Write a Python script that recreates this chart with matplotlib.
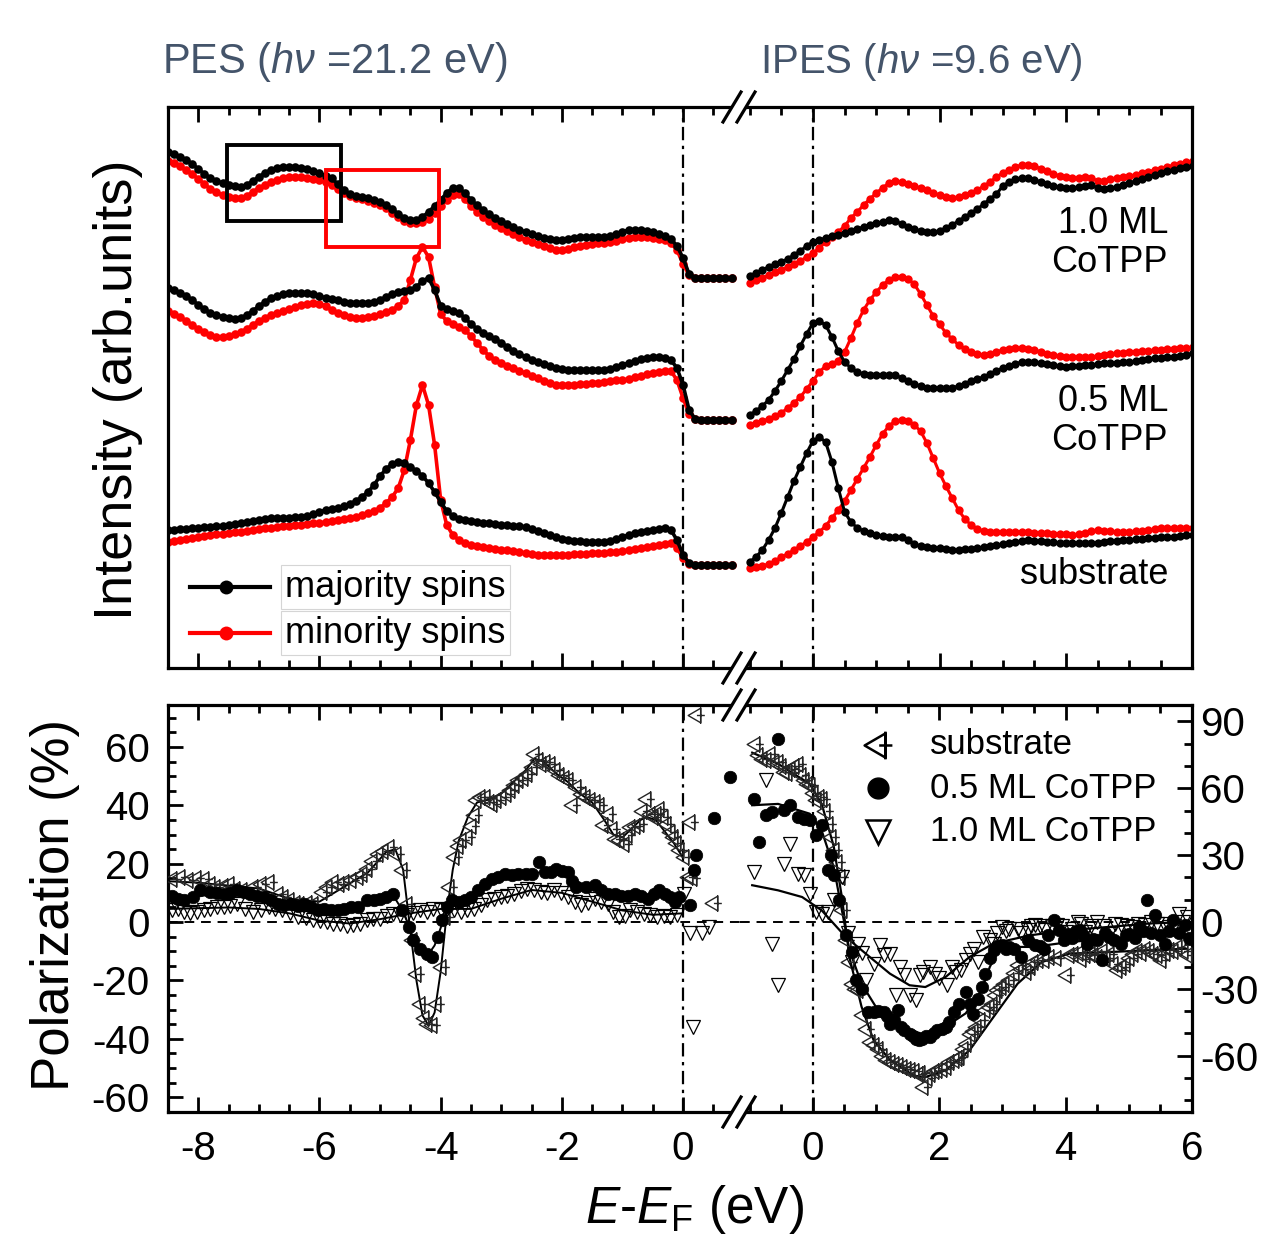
import numpy as np
import matplotlib
matplotlib.use('Agg')
import matplotlib.pyplot as plt
from matplotlib.path import Path
from matplotlib.lines import Line2D
from matplotlib.patches import Polygon, Rectangle
from matplotlib.ticker import MultipleLocator

plt.rcParams['font.family'] = ['Liberation Sans', 'DejaVu Sans']
plt.rcParams['mathtext.fontset'] = 'custom'
plt.rcParams['mathtext.rm'] = 'Liberation Sans'
plt.rcParams['mathtext.it'] = 'Liberation Sans:italic'
plt.rcParams['mathtext.bf'] = 'Liberation Sans:bold'
plt.rcParams['axes.unicode_minus'] = False

# ---------------- top panel: spin-resolved spectra (arb. units) ----------------
E_pes = np.round(np.arange(-85, 9) / 10, 1)     # -8.5 ... 0.8 eV
E_ipes = np.round(np.arange(-10, 61) / 10, 1)   # -1.0 ... 6.0 eV

pes_maj_10 = [54.8, 54.6, 54.3, 54.0, 53.6, 53.1, 52.6, 52.2, 51.9, 51.7,
              51.5, 51.4, 51.3, 51.5, 51.9, 52.3, 52.7, 53.0, 53.2, 53.3,
              53.3, 53.3, 53.2, 53.1, 52.9, 52.7, 52.4, 52.2, 51.6, 51.0,
              50.6, 50.4, 50.3, 50.2, 50.0, 49.8, 49.5, 49.1, 48.6, 48.2,
              48.0, 48.0, 48.3, 48.8, 49.4, 50.0, 50.7, 51.2, 51.2, 50.7,
              50.0, 49.5, 49.0, 48.6, 48.2, 47.9, 47.6, 47.3, 47.0, 46.8,
              46.6, 46.4, 46.2, 46.1, 46.0, 46.0, 46.1, 46.2, 46.3, 46.3,
              46.3, 46.3, 46.3, 46.4, 46.6, 46.8, 47.0, 47.0, 47.0, 46.9,
              46.8, 46.6, 46.4, 46.1, 45.4, 44.2, 42.6, 42.2, 42.2, 42.2,
              42.2, 42.2, 42.2, 42.2]
pes_min_10 = [53.9, 53.7, 53.4, 53.0, 52.6, 52.1, 51.6, 51.1, 50.8, 50.5,
              50.3, 50.2, 50.2, 50.4, 50.8, 51.2, 51.5, 51.8, 52.0, 52.2,
              52.3, 52.3, 52.3, 52.2, 52.1, 52.0, 51.8, 51.5, 51.1, 50.7,
              50.4, 50.2, 50.1, 49.9, 49.7, 49.5, 49.2, 48.7, 48.3, 47.9,
              47.7, 47.7, 47.8, 48.1, 48.7, 49.4, 50.0, 50.5, 50.6, 50.1,
              49.4, 48.8, 48.3, 47.9, 47.5, 47.2, 46.9, 46.6, 46.3, 46.0,
              45.8, 45.6, 45.4, 45.2, 45.0, 45.0, 45.1, 45.3, 45.4, 45.5,
              45.6, 45.7, 45.7, 45.8, 45.9, 46.1, 46.2, 46.3, 46.3, 46.3,
              46.2, 46.1, 46.0, 45.7, 45.0, 43.6, 42.5, 42.2, 42.2, 42.2,
              42.2, 42.2, 42.2, 42.2]
pes_maj_05 = [41.2, 41.0, 40.7, 40.4, 40.0, 39.5, 39.1, 38.7, 38.5, 38.3,
              38.2, 38.1, 38.2, 38.5, 38.9, 39.4, 39.8, 40.2, 40.4, 40.6,
              40.7, 40.7, 40.7, 40.7, 40.6, 40.4, 40.2, 40.1, 40.0, 39.8,
              39.7, 39.7, 39.7, 39.7, 39.8, 40.0, 40.3, 40.6, 40.8, 40.9,
              41.0, 41.3, 41.9, 42.2, 41.0, 39.4, 39.1, 38.9, 38.7, 38.2,
              37.6, 37.1, 36.7, 36.4, 36.1, 35.7, 35.3, 34.9, 34.6, 34.3,
              34.0, 33.8, 33.6, 33.4, 33.2, 33.1, 33.0, 33.0, 33.0, 33.0,
              33.0, 33.0, 33.0, 33.1, 33.3, 33.5, 33.7, 33.9, 34.1, 34.2,
              34.3, 34.3, 34.2, 34.0, 33.2, 31.5, 29.0, 28.1, 28.0, 28.0,
              28.0, 28.0, 28.0, 28.0]
pes_min_05 = [38.9, 38.6, 38.3, 37.9, 37.5, 37.1, 36.8, 36.5, 36.3, 36.3,
              36.4, 36.6, 36.8, 37.1, 37.5, 37.9, 38.2, 38.5, 38.7, 38.9,
              39.1, 39.3, 39.5, 39.6, 39.7, 39.6, 39.4, 39.0, 38.7, 38.5,
              38.3, 38.2, 38.2, 38.3, 38.4, 38.6, 38.8, 39.0, 39.4, 40.0,
              42.0, 44.2, 45.3, 44.3, 41.3, 38.6, 37.9, 37.6, 37.3, 37.0,
              36.4, 35.7, 35.0, 34.4, 34.0, 33.7, 33.4, 33.2, 32.9, 32.7,
              32.4, 32.2, 31.9, 31.7, 31.5, 31.5, 31.5, 31.5, 31.6, 31.6,
              31.7, 31.7, 31.8, 31.9, 32.0, 32.0, 32.1, 32.3, 32.4, 32.6,
              32.7, 32.8, 32.9, 32.9, 32.0, 30.2, 28.6, 28.1, 28.0, 28.0,
              28.0, 28.0, 28.0, 28.0]
pes_maj_sub = [17.0, 17.0, 17.1, 17.1, 17.2, 17.2, 17.3, 17.3, 17.4, 17.4,
               17.5, 17.6, 17.7, 17.8, 17.9, 18.0, 18.1, 18.2, 18.2, 18.2,
               18.2, 18.3, 18.3, 18.4, 18.6, 18.8, 19.0, 19.1, 19.2, 19.4,
               19.6, 19.9, 20.3, 20.8, 21.5, 22.4, 23.1, 23.6, 23.8, 23.7,
               23.3, 22.9, 22.4, 21.7, 20.8, 19.8, 18.9, 18.4, 18.1, 18.0,
               17.9, 17.8, 17.7, 17.7, 17.6, 17.5, 17.5, 17.4, 17.4, 17.3,
               17.1, 16.9, 16.7, 16.5, 16.3, 16.1, 16.0, 15.9, 15.9, 15.8,
               15.8, 15.8, 15.8, 15.9, 16.1, 16.3, 16.5, 16.7, 16.8, 16.9,
               17.0, 17.1, 17.2, 17.0, 16.0, 14.5, 13.7, 13.5, 13.5, 13.5,
               13.5, 13.5, 13.5, 13.5]
pes_min_sub = [15.8, 15.9, 16.0, 16.1, 16.2, 16.3, 16.4, 16.5, 16.6, 16.6,
               16.7, 16.8, 16.8, 16.9, 17.0, 17.1, 17.2, 17.2, 17.3, 17.4,
               17.4, 17.5, 17.5, 17.6, 17.7, 17.7, 17.8, 17.9, 18.0, 18.1,
               18.2, 18.3, 18.5, 18.7, 18.9, 19.2, 19.7, 20.3, 21.2, 23.0,
               26.0, 29.5, 31.5, 29.5, 25.5, 20.0, 17.5, 16.5, 16.0, 15.7,
               15.5, 15.4, 15.3, 15.2, 15.1, 15.0, 15.0, 14.9, 14.8, 14.7,
               14.6, 14.5, 14.5, 14.5, 14.5, 14.5, 14.5, 14.6, 14.6, 14.6,
               14.7, 14.7, 14.7, 14.8, 14.8, 14.9, 15.0, 15.1, 15.2, 15.3,
               15.4, 15.5, 15.6, 15.7, 15.2, 14.2, 13.6, 13.5, 13.5, 13.5,
               13.5, 13.5, 13.5, 13.5]

ipes_maj_10 = [42.4, 42.7, 43.0, 43.3, 43.6, 43.8, 44.1, 44.5, 44.9, 45.4,
               45.8, 46.0, 46.2, 46.4, 46.5, 46.7, 46.9, 47.1, 47.3, 47.5,
               47.7, 47.8, 48.0, 47.9, 47.6, 47.3, 47.1, 46.9, 46.8, 46.8,
               46.9, 47.2, 47.5, 47.9, 48.3, 48.7, 49.1, 49.6, 50.1, 50.6,
               51.4, 51.8, 52.1, 52.2, 52.2, 52.0, 51.8, 51.6, 51.4, 51.3,
               51.2, 51.2, 51.3, 51.4, 51.5, 51.2, 51.1, 51.2, 51.3, 51.5,
               51.7, 51.9, 52.1, 52.3, 52.5, 52.7, 52.9, 53.0, 53.2, 53.3,
               53.4]
ipes_min_10 = [41.7, 42.0, 42.2, 42.5, 42.8, 43.0, 43.3, 43.6, 43.9, 44.3,
               44.7, 45.2, 45.8, 46.3, 46.8, 47.4, 48.2, 48.8, 49.5, 50.1,
               50.7, 51.2, 51.7, 51.9, 51.8, 51.6, 51.4, 51.2, 51.0, 50.7,
               50.5, 50.3, 50.2, 50.3, 50.5, 50.7, 51.0, 51.4, 51.8, 52.3,
               52.7, 53.0, 53.3, 53.5, 53.5, 53.4, 53.1, 52.9, 52.6, 52.4,
               52.3, 52.2, 52.2, 52.3, 52.2, 51.9, 51.9, 52.1, 52.2, 52.3,
               52.4, 52.5, 52.7, 52.8, 53.0, 53.1, 53.3, 53.5, 53.6, 53.8,
               53.9]
ipes_maj_05 = [28.5, 28.9, 29.4, 30.0, 30.9, 31.9, 33.0, 34.1, 35.4, 36.6,
               37.7, 37.9, 37.5, 36.3, 34.9, 33.8, 33.2, 32.8, 32.6, 32.5,
               32.5, 32.5, 32.5, 32.5, 32.2, 31.9, 31.6, 31.4, 31.2, 31.2,
               31.2, 31.2, 31.2, 31.4, 31.6, 31.9, 32.1, 32.3, 32.6, 32.9,
               33.2, 33.4, 33.6, 33.8, 33.8, 33.8, 33.7, 33.6, 33.5, 33.4,
               33.3, 33.4, 33.4, 33.5, 33.5, 33.6, 33.7, 33.7, 33.7, 33.8,
               33.8, 33.9, 34.0, 34.1, 34.2, 34.2, 34.3, 34.3, 34.4, 34.5,
               34.7]
ipes_min_05 = [27.5, 27.7, 27.9, 28.1, 28.4, 28.7, 29.2, 29.7, 30.3, 31.1,
               31.9, 32.8, 33.4, 33.6, 33.9, 34.8, 36.2, 37.7, 39.0, 40.0,
               40.8, 41.5, 42.0, 42.3, 42.3, 42.1, 41.6, 40.6, 39.5, 38.4,
               37.6, 36.7, 36.1, 35.5, 35.1, 34.8, 34.6, 34.5, 34.6, 34.8,
               35.0, 35.1, 35.2, 35.2, 35.1, 35.0, 34.8, 34.6, 34.5, 34.4,
               34.3, 34.3, 34.3, 34.3, 34.3, 34.4, 34.5, 34.6, 34.7, 34.7,
               34.8, 34.8, 34.9, 34.9, 35.0, 35.0, 35.1, 35.1, 35.2, 35.2,
               35.3]
ipes_maj_sub = [13.8, 14.3, 15.0, 16.0, 17.2, 18.7, 20.3, 21.9, 23.3, 24.7,
                25.9, 26.3, 25.8, 23.8, 21.2, 18.8, 17.8, 17.2, 16.9, 16.7,
                16.5, 16.4, 16.3, 16.3, 16.3, 16.0, 15.6, 15.4, 15.3, 15.2,
                15.2, 15.1, 15.0, 15.0, 15.1, 15.1, 15.2, 15.3, 15.4, 15.5,
                15.6, 15.7, 15.8, 15.9, 16.0, 15.9, 15.9, 15.8, 15.8, 15.7,
                15.7, 15.7, 15.7, 15.7, 15.7, 15.7, 15.8, 15.9, 15.9, 16.0,
                16.0, 16.1, 16.1, 16.2, 16.2, 16.3, 16.3, 16.3, 16.4, 16.5,
                16.5]
ipes_min_sub = [13.2, 13.3, 13.4, 13.6, 13.9, 14.3, 14.6, 15.0, 15.4, 15.8,
                16.3, 16.8, 17.4, 18.2, 19.0, 19.9, 21.0, 22.1, 23.2, 24.3,
                25.5, 26.6, 27.4, 27.9, 28.0, 27.9, 27.5, 26.9, 25.7, 24.2,
                22.7, 21.4, 20.2, 19.0, 18.1, 17.5, 17.1, 16.9, 16.8, 16.8,
                16.8, 16.8, 16.8, 16.8, 16.8, 16.7, 16.7, 16.7, 16.6, 16.6,
                16.6, 16.5, 16.6, 16.7, 16.9, 17.0, 16.9, 16.9, 16.8, 16.8,
                16.8, 16.9, 16.9, 17.0, 17.1, 17.2, 17.2, 17.2, 17.2, 17.2,
                17.2]

# ---------------- bottom panel: spin polarization (%) ----------------
# PES side (left axis)
pol_pes_sub_E = [-8.43, -8.3, -8.17, -8.04, -7.91, -7.8, -7.73, -7.6, -7.5, -7.4,
                 -7.28, -7.1, -6.97, -6.84, -6.69, -6.6, -6.51, -6.4, -6.33, -6.2,
                 -6.1, -5.96, -5.87, -5.77, -5.68, -5.59, -5.48, -5.37, -5.3, -5.22,
                 -5.13, -5.04, -4.95, -4.85, -4.74, -4.63, -4.56, -4.48, -4.41, -4.34,
                 -4.28, -4.23, -4.15, -4.08, -4.0, -3.93, -3.86, -3.78, -3.72, -3.67,
                 -3.56, -3.5, -3.45, -3.42, -3.35, -3.27, -3.2, -3.16, -3.08, -3.01,
                 -2.93, -2.86, -2.79, -2.72, -2.64, -2.57, -2.5, -2.46, -2.4, -2.35,
                 -2.27, -2.2, -2.12, -2.05, -1.97, -1.9, -1.83, -1.76, -1.68, -1.61,
                 -1.54, -1.46, -1.39, -1.32, -1.24, -1.18, -1.13, -1.05, -0.98, -0.92,
                 -0.87, -0.8, -0.73, -0.67, -0.61, -0.55, -0.5, -0.45, -0.39, -0.33,
                 -0.28, -0.22, -0.17, -0.11, -0.06, 0.01, 0.09, 0.12, 0.15, 0.21, 0.5]
pol_pes_sub = [14.9, 15.5, 14.3, 15.0, 14.9, 13.0, 12.0, 12.5, 13.0, 11.5,
               10.9, 12.0, 13.0, 13.7, 9.7, 8.5, 7.4, 6.5, 6.3, 6.5,
               6.3, 10.3, 12.0, 13.7, 13.0, 13.7, 14.5, 15.4, 16.5, 18.3,
               21.0, 23.4, 24.5, 25.7, 23.4, 17.7, 6.3, -6.3, -17.7, -28.0,
               -33.0, -34.9, -35.4, -28.0, -15.4, 1.7, 12.0, 22.3, 26.0, 28.0,
               29.0, 33.0, 36.6, 41.7, 43.0, 42.9, 41.0, 40.6, 42.0, 42.9,
               44.0, 45.1, 47.0, 48.6, 49.5, 50.9, 53.0, 57.7, 55.5, 54.3,
               55.0, 54.3, 52.0, 50.3, 49.5, 48.6, 40.0, 46.3, 44.0, 43.0,
               41.7, 41.0, 40.0, 33.1, 37.1, 32.0, 28.6, 28.0, 26.9, 30.0,
               32.6, 33.0, 33.7, 38.0, 42.3, 37.0, 36.0, 37.0, 38.9, 36.0,
               33.7, 31.0, 29.1, 27.0, 24.6, 22.3, 15.4, 34.3, 15.0, 71.0, 6.5]
pol_pes_05_E = [-8.43, -8.34, -8.24, -8.09, -7.98, -7.8, -7.69, -7.58, -7.47, -7.36,
                -7.25, -7.14, -7.03, -6.92, -6.8, -6.69, -6.58, -6.47, -6.36, -6.25,
                -6.14, -6.03, -5.92, -5.81, -5.7, -5.59, -5.48, -5.37, -5.22, -5.1,
                -5.0, -4.9, -4.78, -4.63, -4.52, -4.45, -4.34, -4.23, -4.15, -4.04,
                -3.97, -3.9, -3.82, -3.7, -3.6, -3.5, -3.38, -3.27, -3.16, -3.05,
                -2.94, -2.83, -2.72, -2.6, -2.49, -2.38, -2.27, -2.18, -2.09, -2.0,
                -1.9, -1.83, -1.76, -1.6, -1.46, -1.35, -1.24, -1.13, -1.02, -0.91,
                -0.8, -0.69, -0.58, -0.48, -0.39, -0.3, -0.21, -0.13, -0.06,
                0.12, 0.18, 0.21, 0.51, 0.78]
pol_pes_05 = [9.1, 8.0, 7.4, 8.6, 10.9, 10.3, 10.0, 9.7, 10.0, 10.9,
              10.3, 9.7, 9.0, 8.6, 7.5, 6.3, 6.0, 6.3, 5.5, 6.3,
              5.0, 4.0, 4.5, 4.0, 4.3, 4.6, 5.0, 5.1, 7.4, 7.5,
              8.0, 8.5, 9.7, 4.0, -1.7, -6.3, -9.1, -10.9, -12.0, -5.1,
              0.6, 5.0, 7.4, 7.0, 7.4, 8.5, 10.9, 13.0, 14.9, 15.5,
              16.6, 16.0, 16.6, 16.5, 16.6, 20.6, 17.1, 17.0, 18.3, 17.5,
              17.1, 14.0, 12.0, 12.0, 12.6, 11.0, 9.7, 9.5, 9.1, 9.0,
              9.7, 8.8, 8.0, 9.5, 10.9, 9.5, 8.6, 7.0, 8.6,
              5.8, 17.8, 23.0, 35.7, 49.7]
pol_pes_10_E = [-8.43, -8.33, -8.24, -8.13, -8.02, -7.91, -7.8, -7.69, -7.58, -7.47,
                -7.36, -7.23, -7.1, -6.97, -6.84, -6.73, -6.62, -6.49, -6.36, -6.23,
                -6.1, -5.99, -5.88, -5.77, -5.66, -5.55, -5.44, -5.33, -5.22, -5.11,
                -5.0, -4.89, -4.78, -4.67, -4.56, -4.45, -4.34, -4.23, -4.12, -4.0,
                -3.89, -3.78, -3.67, -3.56, -3.45, -3.34, -3.23, -3.12, -3.01, -2.9,
                -2.79, -2.68, -2.57, -2.46, -2.35, -2.24, -2.13, -2.02, -1.9, -1.79,
                -1.68, -1.57, -1.46, -1.35, -1.24, -1.15, -1.06, -0.96, -0.87, -0.76,
                -0.65, -0.54, -0.43, -0.32, -0.21, -0.1, 0.01,
                0.12, 0.16, 0.31, 0.43]
pol_pes_10 = [4.0, 4.5, 3.4, 3.0, 3.4, 4.0, 4.6, 5.0, 5.1, 5.5,
              6.3, 4.5, 3.4, 4.0, 5.1, 4.5, 4.0, 3.0, 1.7, 1.5,
              0.6, 0.5, 0.0, -0.5, -0.6, -1.5, -1.1, -0.5, 0.6, 1.0,
              1.1, 2.0, 2.9, 2.5, 2.3, 3.0, 4.0, 3.5, 4.6, 4.0,
              4.6, 4.0, 3.4, 4.0, 4.6, 6.0, 7.4, 8.0, 8.6, 9.0,
              9.7, 10.5, 11.4, 11.0, 10.3, 10.0, 10.9, 10.0, 8.6, 7.0,
              5.7, 6.5, 8.0, 7.0, 6.3, 3.5, 1.7, 2.0, 4.0, 3.5,
              2.9, 2.5, 1.7, 2.0, 1.7, 2.5, 9.7,
              -3.8, -36.0, -3.8, -1.7]

# smooth guide lines, PES side
fit_pes_sub_E = [-8.5, -8.0, -7.5, -7.0, -6.5, -6.0, -5.6, -5.2, -4.9, -4.75, -4.62,
                 -4.5, -4.4, -4.3, -4.2, -4.1, -4.0, -3.9, -3.8, -3.7, -3.55, -3.4,
                 -3.2, -3.0, -2.8, -2.6, -2.45, -2.3, -2.1, -1.9, -1.7, -1.5,
                 -1.3, -1.15, -1.0, -0.85, -0.7, -0.6, -0.45, -0.3, -0.15, 0.0]
fit_pes_sub = [14, 13.5, 12.5, 11.5, 8, 7, 12, 17, 24, 25, 18,
               -3, -20, -32, -35.5, -31, -17, 3, 18, 28, 36, 41,
               42, 44, 48, 52, 56, 55, 51, 48, 44, 41,
               35, 30, 29, 32, 35, 36, 35, 31, 27, 22]
fit_pes_05_E = [-8.5, -7.5, -7.0, -6.5, -6.0, -5.5, -5.0, -4.75, -4.6, -4.5, -4.4, -4.3, -4.2, -4.1,
                -4.0, -3.9, -3.7, -3.4, -3.1, -2.8, -2.5, -2.2, -1.9, -1.6, -1.3, -1.0, -0.5, 0.0]
fit_pes_05 = [8.5, 9.5, 9, 6.5, 4.5, 4.5, 7, 8, 3, -3, -8, -10, -11, -8,
              -2, 4, 7, 10, 14, 16, 17, 17, 15.5, 12.5, 10.5, 9.5, 9, 7.5]
fit_pes_10_E = [-8.5, -7.5, -7.0, -6.5, -6.0, -5.5, -5.0, -4.5, -4.0, -3.5, -3.0, -2.5, -2.0,
                -1.5, -1.0, -0.5, 0.0]
fit_pes_10 = [4.5, 5, 4.5, 3, 0.5, -0.5, 1, 3, 4.5, 4.5, 8, 11, 10, 7, 4, 2.5, 3]

# IPES side (right axis)
pol_ipes_sub_E = [-0.92, -0.87, -0.8, -0.74, -0.68, -0.62, -0.55, -0.5, -0.46, -0.41,
                  -0.36, -0.3, -0.24, -0.19, -0.14, -0.09, -0.05, 0.0, 0.05, 0.09,
                  0.14, 0.19, 0.24, 0.28, 0.33, 0.38, 0.43, 0.46, 0.52, 0.57,
                  0.62, 0.67, 0.71, 0.77, 0.84, 0.9, 0.97, 1.03, 1.1, 1.15,
                  1.22, 1.28, 1.35, 1.41, 1.47, 1.53, 1.6, 1.66, 1.7, 1.75,
                  1.8, 1.85, 1.92, 1.97, 2.04, 2.1, 2.16, 2.23, 2.28, 2.32,
                  2.37, 2.42, 2.48, 2.53, 2.58, 2.65, 2.73, 2.78, 2.83, 2.88,
                  2.92, 2.97, 3.02, 3.11, 3.18, 3.24, 3.3, 3.37, 3.43, 3.49,
                  3.57, 3.65, 3.74, 3.85, 4.0, 4.06, 4.12, 4.19, 4.25, 4.31,
                  4.38, 4.44, 4.5, 4.57, 4.63, 4.69, 4.75, 4.82, 4.88, 4.94,
                  5.0, 5.07, 5.13, 5.2, 5.26, 5.32, 5.39, 5.45, 5.51, 5.58,
                  5.64, 5.7, 5.77, 5.85, 5.92]
pol_ipes_sub = [80, 74.8, 73, 72.6, 75.6, 72, 71.8, 70, 67.3, 67,
                68.8, 70, 71.1, 66, 63.6, 62, 61.3, 58, 54.6, 56,
                55.4, 50, 44.1, 38, 32.2, 27, 20.2, 5.2, -8.2, -18,
                -27.7, -30, -30.7, -41.9, -48, -53.9, -55, -56.9, -60, -62.1,
                -63, -63.6, -64, -65.1, -66, -66.6, -67, -68.1, -68, -74.1,
                -70, -68.1, -67, -66.6, -66, -65.1, -63, -62.1, -61, -60.6,
                -57, -54.6, -50.1, -49, -47.1, -44, -39.6, -38, -36.7, -33,
                -30.7, -29, -27.7, -26.2, -23, -19.4, -21, -22.4, -20, -18,
                -17, -17.2, -15.7, -16, -23.9, -15, -14.2, -14, -16.5, -15,
                -14.2, -15, -15.7, -13, -16, -14.2, -19, -21.7, -20, -18.7,
                -16, -14.2, -13, -14, -12, -13, -14.2, -15, -17.2, -14,
                -12.7, -13, -11.2, -13, -15]
pol_ipes_05_E = [-0.93, -0.86, -0.74, -0.65, -0.55, -0.46, -0.36, -0.24, -0.14, -0.05,
                 0.05, 0.14, 0.24, 0.28, 0.33, 0.42, 0.52, 0.62, 0.68, 0.77,
                 0.87, 0.96, 1.03, 1.12, 1.17, 1.22, 1.28, 1.34, 1.39, 1.44,
                 1.53, 1.58, 1.63, 1.68, 1.72, 1.79, 1.85, 1.91, 1.97, 2.04,
                 2.1, 2.16, 2.23, 2.32, 2.42, 2.48, 2.54, 2.61, 2.67, 2.73,
                 2.8, 2.86, 2.92, 2.99, 3.05, 3.11, 3.18, 3.3, 3.4, 3.52,
                 3.59, 3.65, 3.72, 3.81, 3.9, 3.97, 4.03, 4.1, 4.16, 4.22,
                 4.28, 4.34, 4.44, 4.5, 4.57, 4.63, 4.69, 4.76, 4.88, 4.95,
                 5.01, 5.1, 5.16, 5.22, 5.29, 5.35, 5.42, 5.5, 5.58, 5.64,
                 5.7, 5.8, 5.89, 5.95]
pol_ipes_05 = [55.4, 35.9, 47.9, 49.4, 82.3, 50.1, 52.4, 47.1, 46.4, 45.6,
               38.9, 43.4, 23.2, 30, 20.9, 10, -6, -13.5, -26.2, -29.9,
               -40.4, -40.4, -40, -40.4, -42, -45.6, -44, -39.6, -47, -48.6,
               -50.1, -51, -52.4, -53, -52.4, -51, -51.6, -50, -48.6, -48,
               -47.1, -45, -40.4, -36.7, -31.4, -37, -41.1, -34.4, -29, -23.2,
               -16, -12.7, -11, -10.5, -12, -11.2, -12, -15.7, -8.2, -10.5,
               -11, -12, -6, 0.7, -3.7, -8, -5.2, -7, -4, -3.7,
               -6, -9.7, -7.5, -8, -17.2, -5, -6.7, -8, -9.7, -6,
               -5.2, -7, -2.2, -4, 9.7, -5, 3, -6, -9.7, -4,
               0.7, -5, -1.5, -7]
pol_ipes_10_E = [-0.93, -0.74, -0.65, -0.55, -0.46, -0.36, -0.24, -0.14, -0.05, 0.05,
                 0.14, 0.24, 0.33, 0.46, 0.55, 0.62, 0.71, 0.78, 0.84, 0.96,
                 1.06, 1.12, 1.22, 1.31, 1.38, 1.44, 1.53, 1.63, 1.7, 1.75,
                 1.85, 1.94, 2.0, 2.13, 2.2, 2.26, 2.35, 2.42, 2.48, 2.55,
                 2.61, 2.7, 2.8, 2.86, 2.92, 2.99, 3.05, 3.11, 3.24, 3.3,
                 3.4, 3.46, 3.52, 3.6, 3.68, 3.78, 3.87, 3.94, 4.0, 4.1,
                 4.19, 4.25, 4.31, 4.4, 4.5, 4.6, 4.69, 4.78, 4.88, 4.97,
                 5.07, 5.15, 5.26, 5.35, 5.45, 5.55, 5.64, 5.72, 5.8, 5.85, 5.92]
pol_ipes_10 = [22.4, 63.6, -9.7, -28.4, 26.2, 35.2, 21.7, 20.9, 12.7, 4.5,
               3.7, 4.5, 9.7, 20.2, -5, -18, -9.7, -14, -26.2, -18.7,
               -10.5, -15, -14.2, -32.9, -20, -23.9, -32.9, -35.2, -24, -22.4,
               -20.2, -23.2, -25, -28.4, -20, -22.4, -21.7, -17, -14.2, -12,
               -18, -6.7, -8, -9.7, -5, -2.2, -4, -3, -3, -5,
               -3.7, -2, -1.5, -2, -3.7, -2, -1.5, -2, -4.5, -3,
               0, -1, -4.5, -2, 0, -2, -5.2, -1, -1.5, -2,
               -2.2, -1, -1.5, 0, -0.7, -1, -2.2, -2, 3.7, 0, 2.2]

fit_ipes_sub_E = [-0.96, -0.55, -0.05, 0.14, 0.33, 0.46, 0.58, 0.77, 0.96, 1.22, 1.6,
                  1.78, 2.1, 2.48, 2.86, 3.24, 3.62, 4.06, 4.69, 5.32, 5.92]
fit_ipes_sub = [76, 71, 62, 53, 34, 11, -16, -38, -53, -62, -69,
                -69.6, -66.6, -57.6, -42.6, -27.7, -18, -14.2, -13.5, -12.7, -12]
fit_ipes_05_E = [-0.96, -0.55, -0.05, 0.14, 0.33, 0.46, 0.58, 0.77, 1.03, 1.34, 1.72,
                 2.1, 2.42, 2.67, 2.8, 2.92, 3.11, 3.49, 4.06, 4.69, 5.32, 5.92]
fit_ipes_05 = [52.4, 53, 48.6, 41, 24.7, 5.2, -12.7, -27.7, -39.6, -47, -50.1,
               -47, -41, -30.7, -20.2, -13.5, -11.2, -11.2, -9, -7.5, -6, -6]
fit_ipes_10_E = [-0.96, -0.55, -0.17, 0.14, 0.52, 0.9, 1.22, 1.53, 1.78, 2.1, 2.48,
                 2.86, 3.43, 4.06, 4.69, 5.32, 5.92]
fit_ipes_10 = [16.5, 14.2, 11.2, 5.2, -6.7, -15.7, -23.2, -28.4, -29.2, -24.7, -15.7,
               -9.7, -6, -3.7, -2.2, -0.7, 0]

left_ticks = [60, 40, 20, 0, -20, -40, -60]
right_ticks = [90, 60, 30, 0, -30, -60]

# ---------------- figure ----------------
W, H = 1278, 1243
fig = plt.figure(figsize=(W / 100, H / 100), dpi=100)


def fax(x0, y0, x1, y1):
    return fig.add_axes([x0 / W, 1 - y1 / H, (x1 - x0) / W, (y1 - y0) / H])


ax_tl = fax(168, 107, 740, 668)
ax_tr = fax(740, 107, 1192, 668)
ax_bl = fax(168, 705, 740, 1112)
ax_br = fax(740, 705, 1192, 1112)

XB = 740
for ax in (ax_tl, ax_tr, ax_bl, ax_br):
    for s in ax.spines.values():
        s.set_linewidth(2.3)
    ax.xaxis.set_major_locator(MultipleLocator(2))
    ax.xaxis.set_minor_locator(MultipleLocator(0.5))
    ax.tick_params(axis='x', which='both', direction='in', top=True, bottom=True,
                   width=2.0, labelsize=29, pad=13)
    ax.tick_params(axis='x', which='major', length=11)
    ax.tick_params(axis='x', which='minor', length=5.5)
for ax in (ax_tl, ax_bl):
    ax.spines['right'].set_visible(False)
    ax.set_xlim(-8.5, 0.94)
for ax in (ax_tr, ax_br):
    ax.spines['left'].set_visible(False)
    ax.set_xlim(-1.153, 5.99)
for ax in (ax_tl, ax_tr):
    ax.set_yticks([])
    ax.tick_params(axis='x', which='both', labelbottom=False)
    ax.set_ylim(3.2, 59.3)

ax_bl.set_ylim(-65.1, 74.4)
ax_br.set_ylim(-85.3, 97.4)
ax_bl.set_xticks([-8, -6, -4, -2, 0])
ax_br.set_xticks([0, 2, 4, 6])
ax_bl.set_yticks(left_ticks)
ax_bl.yaxis.set_minor_locator(MultipleLocator(5))
ax_bl.tick_params(axis='y', which='both', direction='in', left=True, right=False,
                  width=2.0, labelsize=29, pad=13)
ax_bl.tick_params(axis='y', which='major', length=11)
ax_bl.tick_params(axis='y', which='minor', length=5.5)
ax_br.set_yticks(right_ticks)
ax_br.yaxis.set_minor_locator(MultipleLocator(10))
ax_br.tick_params(axis='y', which='both', direction='in', left=False, right=True,
                  labelleft=False, labelright=True, width=2.0, labelsize=29, pad=6)
ax_br.tick_params(axis='y', which='major', length=11)
ax_br.tick_params(axis='y', which='minor', length=5.5)

dashdot = (0, (6, 2.5, 1.5, 2.5))
for ax in (ax_tl, ax_tr, ax_bl, ax_br):
    ax.axvline(0, color='k', lw=1.6, ls=dashdot, zorder=1)
for ax in (ax_bl, ax_br):
    ax.axhline(0, color='k', lw=1.4, ls=(0, (5, 3.5)), zorder=1)

# ---- top panel curves ----
RED = '#ff0000'
kw_l = dict(lw=2.6, marker='o', ms=6.2, mew=0)
kw_r = dict(lw=2.2, marker='o', ms=6.0, mew=0)
for maj, mnr in ((pes_maj_10, pes_min_10), (pes_maj_05, pes_min_05), (pes_maj_sub, pes_min_sub)):
    ax_tl.plot(E_pes, maj, color='k', **kw_l, zorder=3)
    ax_tl.plot(E_pes, mnr, color=RED, **kw_l, zorder=2)
for maj, mnr in ((ipes_maj_10, ipes_min_10), (ipes_maj_05, ipes_min_05), (ipes_maj_sub, ipes_min_sub)):
    ax_tr.plot(E_ipes, maj, color='k', **kw_r, zorder=3)
    ax_tr.plot(E_ipes, mnr, color=RED, **kw_r, zorder=2)

# highlight boxes
ax_tl.add_patch(Rectangle((-7.52, 47.9), 1.87, 7.6, fill=False, ec='k', lw=2.8, zorder=4))
ax_tl.add_patch(Rectangle((-5.90, 45.3), 1.88, 7.7, fill=False, ec=RED, lw=2.8, zorder=4))

# legend top
for yy, col, lab in ((0.144, 'k', 'majority spins'), (0.062, RED, 'minority spins')):
    ax_tl.plot([0.038, 0.178], [yy, yy], color=col, lw=3.0, transform=ax_tl.transAxes, zorder=5)
    ax_tl.plot([0.101], [yy], 'o', color=col, ms=10, mew=0, transform=ax_tl.transAxes, zorder=5)
    ax_tl.text(0.205, yy, lab, transform=ax_tl.transAxes, fontsize=26, va='center', ha='left',
               bbox=dict(boxstyle='square,pad=0.12', fc='white', ec='#d5d5d5', lw=0.8), zorder=5)

ax_tr.text(0.947, 0.758, '1.0 ML\nCoTPP', transform=ax_tr.transAxes, fontsize=26,
           ha='right', va='center', linespacing=1.15)
ax_tr.text(0.947, 0.44, '0.5 ML\nCoTPP', transform=ax_tr.transAxes, fontsize=26,
           ha='right', va='center', linespacing=1.15)
ax_tr.text(0.947, 0.166, 'substrate', transform=ax_tr.transAxes, fontsize=26,
           ha='right', va='center')

# ---- bottom panel ----
vs = [(-1, 0), (0.5, 0.87), (0.5, -0.87), (-1, 0), (0.5, 1.0), (0.5, -1.0), (0.05, 0), (1.0, 0)]
cs = [Path.MOVETO, Path.LINETO, Path.LINETO, Path.CLOSEPOLY, Path.MOVETO, Path.LINETO, Path.MOVETO, Path.LINETO]
sub_marker = Path(vs, cs)

ax_bl.plot(fit_pes_sub_E, fit_pes_sub, color='k', lw=1.4, zorder=2)
ax_bl.plot(fit_pes_05_E, fit_pes_05, color='k', lw=1.4, zorder=2)
ax_bl.plot(fit_pes_10_E, fit_pes_10, color='k', lw=1.4, zorder=2)
ax_br.plot(fit_ipes_sub_E, fit_ipes_sub, color='k', lw=1.6, zorder=2)
ax_br.plot(fit_ipes_05_E, fit_ipes_05, color='k', lw=1.6, zorder=2)
ax_br.plot(fit_ipes_10_E, fit_ipes_10, color='k', lw=1.6, zorder=2)

sub_kw = dict(ls='none', marker=sub_marker, ms=12, mfc='none', mec='#262626', mew=1.0, zorder=3)
c05_kw = dict(ls='none', marker='o', ms=9, mfc='k', mec='k', mew=0.5, zorder=4)
t10_kw = dict(ls='none', marker='v', ms=10, mfc='none', mec='k', mew=0.9, zorder=3)
ax_bl.plot(pol_pes_sub_E, pol_pes_sub, **sub_kw)
ax_bl.plot(pol_pes_05_E, pol_pes_05, **c05_kw)
ax_bl.plot(pol_pes_10_E, pol_pes_10, **t10_kw)
ax_br.plot(pol_ipes_sub_E, pol_ipes_sub, **sub_kw)
ax_br.plot(pol_ipes_05_E, pol_ipes_05, **c05_kw)
ax_br.plot(pol_ipes_10_E, pol_ipes_10, **t10_kw)

# legend bottom
leg_items = [(0.902, dict(marker=sub_marker, ms=20, mfc='none', mec='k', mew=1.8), 'substrate'),
             (0.796, dict(marker='o', ms=15, mfc='k', mec='k'), '0.5 ML CoTPP'),
             (0.688, dict(marker='v', ms=17, mfc='none', mec='k', mew=1.8), '1.0 ML CoTPP')]
for yy, mk, lab in leg_items:
    ax_br.plot([0.305], [yy], ls='none', transform=ax_br.transAxes, zorder=6, **mk)
    ax_br.text(0.42, yy, lab, transform=ax_br.transAxes, fontsize=25, va='center', ha='left', zorder=6)

# ---- break marks ----
def draw_break(yc, xc=XB):
    def f(x, y):
        return (x / W, 1 - y / H)
    poly = Polygon([f(xc - 16, yc + 15), f(xc + 1, yc - 15), f(xc + 16, yc - 15), f(xc - 3, yc + 15)],
                   closed=True, fc='white', ec='none', transform=fig.transFigure, zorder=10)
    fig.add_artist(poly)
    for dx in (-17, -3):
        x0, y0 = f(xc + dx, yc + 15)
        x1, y1 = f(xc + dx + 18, yc - 15)
        fig.add_artist(Line2D([x0, x1], [y0, y1], color='k', lw=2.3, transform=fig.transFigure, zorder=11))


for yc in (107, 668, 705, 1112):
    draw_break(yc)

# ---- labels ----
TITLE_C = '#44546a'
fig.text(162 / W, 1 - 62 / H, r'PES ($h\nu$ =21.2 eV)', fontsize=30, color=TITLE_C, ha='left', va='center')
fig.text(760 / W, 1 - 62 / H, r'IPES ($h\nu$ =9.6 eV)', fontsize=29, color=TITLE_C, ha='left', va='center')
fig.text(118 / W, 1 - 390 / H, 'Intensity (arb.units)', fontsize=39, rotation=90, ha='center', va='center')
fig.text(55 / W, 1 - 905 / H, 'Polarization (%)', fontsize=38, rotation=90, ha='center', va='center')
fig.text(695 / W, 1 - 1210 / H, r'$E$-$E_\mathrm{F}$ (eV)', fontsize=37, ha='center', va='center')

fig.savefig('out.png', dpi=100)
